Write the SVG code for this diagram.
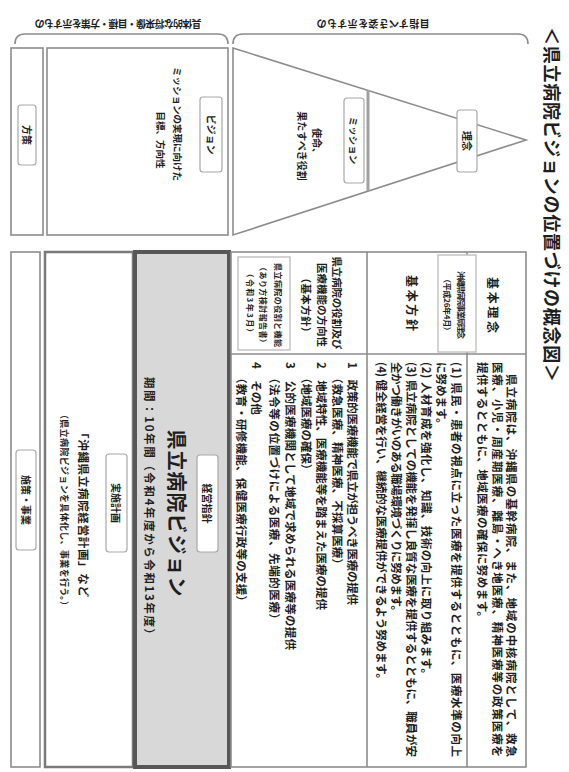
<svg xmlns="http://www.w3.org/2000/svg" width="569" height="772" viewBox="0 0 569 772">
<style>
text{font-family:"Noto Sans CJK JP","Noto Sans",sans-serif;fill:#1e1e1e;dominant-baseline:central}
.b{font-weight:bold}
.c{font-size:11.5px;font-weight:bold}
.h{font-size:12px;font-weight:bold}
.hh{font-size:10.5px;font-weight:bold}
.s{font-size:8px;font-weight:bold}
.frame{fill:#fff;stroke:#8c8c8c;stroke-width:1.6}
.line{stroke:#8c8c8c;stroke-width:1.6;fill:none}
.lbl{fill:#fff;stroke:#a8a8a8;stroke-width:1.2}
.sub{fill:#fff;stroke:#c0c0c0;stroke-width:1.4}
.m{text-anchor:middle}
</style>
<rect width="569" height="772" fill="#fff"/>
<g id="title"><text class="b" font-size="18" transform="translate(553,27) rotate(90)" textLength="355">＜県立病院ビジョンの位置づけの概念図＞</text></g>
<g id="connectors">
<path class="line" d="M233,44 Q233,34 243,34 H518 Q528,34 528,44"/>
<path class="line" d="M15,44 Q15,34 25,34 H218 Q228,34 228,44"/>
<text class="b m" font-size="10" transform="translate(373,24) rotate(180)" textLength="113">目指すべき姿を示すもの</text>
<text class="b m" font-size="10" transform="translate(118,24) rotate(180)" textLength="167">具体的な将来像・目標・方策を示すもの</text>
</g>
<g id="node-housaku">
<rect class="frame" x="11" y="48" width="32" height="187"/>
<rect class="lbl" x="18" y="105" width="18" height="60" rx="3"/>
<text class="b m" font-size="10" transform="translate(27,135) rotate(90)">方策</text>
</g>
<g id="node-vision">
<rect class="frame" x="47" y="48" width="181" height="187"/>
<rect class="lbl" x="200" y="97" width="22" height="75" rx="3"/>
<text class="b m" font-size="10" transform="translate(211,134.5) rotate(90)">ビジョン</text>
<text class="b m" font-size="9.5" transform="translate(178,124) rotate(90)">ミッションの実現に向けた</text>
<text class="b m" font-size="9.5" transform="translate(161,140) rotate(90)">目標、方向性</text>
</g>
<g id="node-pyramid">
<polygon class="line" points="233,48 526,140 233,235"/>
<line x1="368" y1="90" x2="368" y2="191" stroke="#a0a0a0" stroke-width="3"/>
<rect class="lbl" x="344" y="98" width="20" height="85" rx="3"/>
<text class="b m" font-size="9.5" transform="translate(354,140.5) rotate(90)">ミッション</text>
<text class="b m" font-size="10" transform="translate(317,143) rotate(90)">使命、</text>
<text class="b m" font-size="10" transform="translate(302,146) rotate(90)">果たすべき役割</text>
<rect class="lbl" x="457" y="110" width="20" height="62" rx="3"/>
<text class="b m" font-size="10" transform="translate(467,141) rotate(90)">理念</text>
</g>
<g id="node-shisaku">
<rect class="frame" x="11" y="252" width="29" height="515"/>
<rect class="lbl" x="16" y="450" width="20" height="100" rx="3"/>
<text class="b m" font-size="10" transform="translate(26,500) rotate(90)">施策・事業</text>
</g>
<g id="node-jisshi">
<rect x="45" y="252" width="88" height="515" fill="#fff" stroke="#7a7a7a" stroke-width="2.5"/>
<rect class="lbl" x="106" y="454" width="21" height="98" rx="3"/>
<text class="b m" font-size="10" transform="translate(116.5,503) rotate(90)">実施計画</text>
<text class="c" transform="translate(84,427) rotate(90)" textLength="170">「沖縄県立病院経営計画」など</text>
<text class="b" font-size="9" transform="translate(64,410) rotate(90)" textLength="200">（県立病院ビジョンを具体化し、事業を行う。）</text>
</g>
<g id="node-kenritsu-vision">
<rect x="135" y="252" width="94" height="515" fill="#d8d8d8" stroke="#575757" stroke-width="4"/>
<rect class="lbl" x="197" y="455" width="21" height="97" rx="3"/>
<text class="b m" font-size="10" transform="translate(207.5,503.5) rotate(90)">経営指針</text>
<text class="b m" font-size="20" transform="translate(177,513) rotate(90)" textLength="167">県立病院ビジョン</text>
<text class="c" transform="translate(150,377) rotate(90)" textLength="263">期間：10年間（令和4年度から令和13年度）</text>
</g>
<g id="node-kihon">
<rect class="frame" x="231" y="252" width="295" height="515"/>
<line class="line" x1="231" y1="354" x2="526" y2="354"/>
<line class="line" x1="367" y1="252" x2="367" y2="767"/>
<line class="line" x1="467" y1="252" x2="467" y2="767"/>
</g>
<g id="node-rinen">
<text class="h m" transform="translate(493,305) rotate(90)" textLength="56">基本理念</text>
<text class="c" transform="translate(512,374) rotate(90)" textLength="383">県立病院は、沖縄県の基幹病院、また、地域の中核病院として、救急</text>
<text class="c" transform="translate(498,362) rotate(90)" textLength="395">医療、小児・周産期医療、離島・へき地医療、精神医療等の政策医療を</text>
<text class="c" transform="translate(483,362) rotate(90)" textLength="261">提供するとともに、地域医療の確保に努めます。</text>
</g>
<g id="node-source1">
<rect class="sub" x="438" y="255" width="38" height="97"/>
<text class="s m" transform="translate(461,305) rotate(90)" textLength="68">沖縄県病院事業局理念</text>
<text class="s m" transform="translate(447,305) rotate(90)" textLength="60">（平成26年4月）</text>
</g>
<g id="node-houshin">
<text class="h m" transform="translate(412,303) rotate(90)" textLength="56">基本方針</text>
<text class="c" transform="translate(457,362) rotate(90)" textLength="395">(1) 県民・患者の視点に立った医療を提供するとともに、医療水準の向上</text>
<text class="c" transform="translate(442,362) rotate(90)">に努めます。</text>
<text class="c" transform="translate(427,362) rotate(90)" textLength="318">(2) 人材育成を強化し、知識、技術の向上に取り組みます。</text>
<text class="c" transform="translate(412,362) rotate(90)" textLength="395">(3) 県立病院としての機能を発揮し良質な医療を提供するとともに、職員が安</text>
<text class="c" transform="translate(397,362) rotate(90)" textLength="255">全かつ働きがいのある職場環境づくりに努めます。</text>
<text class="c" transform="translate(382,362) rotate(90)" textLength="323">(4) 健全経営を行い、継続的な医療提供ができるよう努めます。</text>
</g>
<g id="node-yakuwari">
<text class="hh m" transform="translate(337,303) rotate(90)" textLength="93">県立病院の役割及び</text>
<text class="hh m" transform="translate(322,305) rotate(90)" textLength="84">医療機能の方向性</text>
<text class="hh m" transform="translate(306,305) rotate(90)" textLength="65">（基本方針）</text>
<rect class="sub" x="238" y="257" width="52" height="93"/>
<text class="s m" font-size="8.5" transform="translate(278,305) rotate(90)" textLength="84">県立病院の役割と機能</text>
<text class="s m" font-size="8.5" transform="translate(263,305) rotate(90)" textLength="84">（あり方検討報告書）</text>
<text class="s m" font-size="8.5" transform="translate(250,303) rotate(90)" textLength="67">（令和3年3月）</text>
<text class="c" transform="translate(353,362) rotate(90)" textLength="243">1　政策的医療機能で県立が担うべき医療の提供</text>
<text class="c" transform="translate(338,372) rotate(90)" textLength="198">（救急医療、精神医療、不採算医療）</text>
<text class="c" transform="translate(322,362) rotate(90)" textLength="248">2　地域特性、医療機能等を踏まえた医療の提供</text>
<text class="c" transform="translate(307,372) rotate(90)">（地域医療の確保）</text>
<text class="c" transform="translate(291,362) rotate(90)" textLength="288">3　公的医療機関として地域で求められる医療等の提供</text>
<text class="c" transform="translate(275,372) rotate(90)" textLength="253">（法令等の位置づけによる医療、先端的医療）</text>
<text class="c" transform="translate(257,362) rotate(90)">4　その他</text>
<text class="c" transform="translate(242,372) rotate(90)" textLength="235">（教育・研修機能、保健医療行政等の支援）</text>
</g>
</svg>
